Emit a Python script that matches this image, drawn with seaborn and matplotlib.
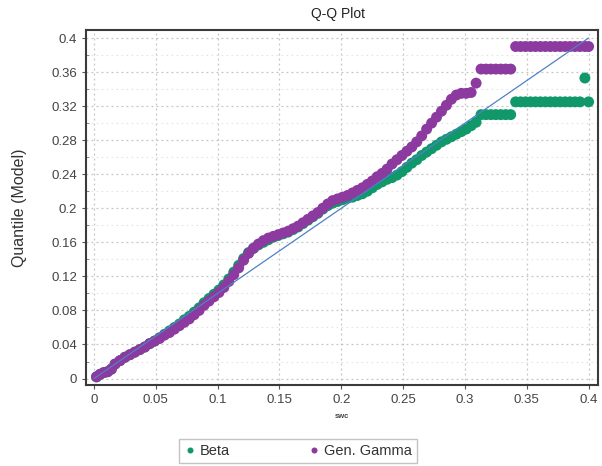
import matplotlib
matplotlib.use("Agg")
import matplotlib.pyplot as plt
import pandas as pd
import seaborn as sns
from matplotlib.ticker import FixedLocator, MultipleLocator

# empirical quantiles (swc)
swc = [0.002, 0.005, 0.008, 0.011, 0.014, 0.017, 0.021, 0.025, 0.029, 0.033, 0.037, 0.041, 0.045,
       0.049, 0.053, 0.057, 0.061, 0.065, 0.069, 0.073, 0.077, 0.081, 0.085, 0.089, 0.093, 0.097,
       0.101, 0.105, 0.109, 0.113, 0.117, 0.121, 0.125, 0.129, 0.133, 0.137, 0.141, 0.145, 0.149,
       0.153, 0.157, 0.161, 0.165, 0.169, 0.173, 0.177, 0.181, 0.185, 0.189, 0.193, 0.197,
       0.201, 0.205, 0.209, 0.213, 0.217, 0.221, 0.225, 0.229, 0.233, 0.237, 0.241, 0.245, 0.249,
       0.253, 0.257, 0.261, 0.265, 0.269, 0.273, 0.277, 0.281, 0.285, 0.289, 0.293, 0.297,
       0.301, 0.305, 0.309, 0.313, 0.317, 0.321, 0.325, 0.329, 0.333, 0.337,
       0.341, 0.345, 0.349, 0.353, 0.357, 0.361, 0.365, 0.369, 0.373, 0.377, 0.381, 0.385,
       0.389, 0.393, 0.397, 0.400]

# model quantiles - Beta
beta_q = [0.002, 0.005, 0.007, 0.008, 0.011, 0.017, 0.021, 0.025, 0.028, 0.031, 0.034, 0.037, 0.041,
          0.044, 0.048, 0.052, 0.056, 0.060, 0.064, 0.069, 0.073, 0.078, 0.083, 0.089, 0.094, 0.099,
          0.104, 0.110, 0.117, 0.125, 0.133, 0.141, 0.148, 0.153, 0.157, 0.160, 0.163, 0.166, 0.168,
          0.170, 0.172, 0.175, 0.178, 0.182, 0.186, 0.190, 0.194, 0.199, 0.203, 0.206, 0.208,
          0.210, 0.212, 0.213, 0.215, 0.217, 0.220, 0.224, 0.228, 0.231, 0.234, 0.236, 0.239, 0.243,
          0.248, 0.253, 0.257, 0.262, 0.266, 0.270, 0.274, 0.278, 0.281, 0.284, 0.287, 0.290,
          0.293, 0.297, 0.301, 0.310, 0.310, 0.310, 0.310, 0.310, 0.310, 0.310,
          0.325, 0.325, 0.325, 0.325, 0.325, 0.325, 0.325, 0.325, 0.325, 0.325, 0.325, 0.325,
          0.325, 0.325, 0.353, 0.325]

# model quantiles - Gen. Gamma
gamma_q = [0.002, 0.005, 0.007, 0.008, 0.011, 0.017, 0.021, 0.025, 0.028, 0.031, 0.034, 0.037, 0.041,
           0.044, 0.047, 0.051, 0.054, 0.058, 0.062, 0.066, 0.070, 0.075, 0.080, 0.086, 0.091, 0.096,
           0.101, 0.107, 0.114, 0.122, 0.130, 0.139, 0.147, 0.153, 0.158, 0.162, 0.165, 0.167, 0.169,
           0.171, 0.173, 0.176, 0.179, 0.183, 0.187, 0.191, 0.195, 0.200, 0.205, 0.209, 0.211,
           0.213, 0.215, 0.218, 0.221, 0.224, 0.228, 0.232, 0.237, 0.241, 0.246, 0.252, 0.257, 0.262,
           0.267, 0.272, 0.278, 0.285, 0.293, 0.300, 0.307, 0.314, 0.321, 0.328, 0.333, 0.335,
           0.335, 0.336, 0.347, 0.3635, 0.3635, 0.3635, 0.3635, 0.3635, 0.3635, 0.3635,
           0.390, 0.390, 0.390, 0.390, 0.390, 0.390, 0.390, 0.390, 0.390, 0.390, 0.390, 0.390,
           0.390, 0.390, 0.390, 0.390]

series_names = ["Beta", "Gen. Gamma"]
series_colors = ["#10986b", "#8c3a9f"]
ref_line = [0.0, 0.4]

x_ticks = [0, 0.05, 0.1, 0.15, 0.2, 0.25, 0.3, 0.35, 0.4]
x_tick_labels = ["0", "0.05", "0.1", "0.15", "0.2", "0.25", "0.3", "0.35", "0.4"]
y_ticks = [0, 0.04, 0.08, 0.12, 0.16, 0.2, 0.24, 0.28, 0.32, 0.36, 0.4]
y_tick_labels = ["0", "0.04", "0.08", "0.12", "0.16", "0.2", "0.24", "0.28", "0.32", "0.36", "0.4"]

df = pd.DataFrame({
    "swc": swc + swc,
    "q": beta_q + gamma_q,
    "dist": [series_names[0]] * len(swc) + [series_names[1]] * len(swc),
})

sns.set_theme(style="white")
plt.rcParams["font.family"] = ["Liberation Sans", "DejaVu Sans"]

W, H = 602, 466
fig = plt.figure(figsize=(W / 100, H / 100), dpi=100)
ax = fig.add_axes([86 / W, 1 - 385 / H, 512 / W, 355 / H])

sns.scatterplot(data=df, x="swc", y="q", hue="dist",
                palette=dict(zip(series_names, series_colors)),
                s=62, linewidth=0, ax=ax, zorder=3)
ax.plot(ref_line, ref_line, color="#4f80c6", lw=0.9, zorder=4)

ax.set_xlim(-0.0065, 0.4076)
ax.set_ylim(-0.0076, 0.4094)
ax.xaxis.set_major_locator(FixedLocator(x_ticks))
ax.set_xticklabels(x_tick_labels)
ax.yaxis.set_major_locator(FixedLocator(y_ticks))
ax.set_yticklabels(y_tick_labels)
ax.yaxis.set_minor_locator(MultipleLocator(0.02))

ax.grid(True, which="major", linestyle=(0, (1.5, 2.5)), color="#c4c4c4", linewidth=0.9, zorder=0)
ax.grid(True, which="minor", axis="y", linestyle=(0, (1.5, 3)), color="#e4e4e4", linewidth=0.8, zorder=0)
ax.set_axisbelow(True)

for sp in ax.spines.values():
    sp.set_color("#3a3a3a")
    sp.set_linewidth(1.5)

ax.tick_params(axis="both", which="major", labelsize=9.5, labelcolor="#444444",
               color="#555555", length=3, width=0.8, direction="out",
               bottom=True, left=True)
ax.tick_params(axis="y", which="minor", length=2, width=0.6, color="#777777",
               direction="in", left=True)

ax.set_xlabel("swc", fontsize=5.5, color="#444444", fontweight="bold")
ax.xaxis.set_label_coords(0.5, -0.079)
ax.set_ylabel("Quantile (Model)", fontsize=11.5, color="#333333")
ax.yaxis.set_label_coords(-0.115, 0.5)

fig.text(338 / W, 1 - 14 / H, "Q-Q Plot", ha="center", va="center",
         fontsize=10, color="#222222")

sns.move_legend(ax, "center", bbox_to_anchor=(0.414, -0.186), ncol=2, title=None,
                frameon=True, fontsize=10.5, markerscale=0.55, handletextpad=0.25,
                columnspacing=5.4, handlelength=0.8, borderpad=0.35,
                fancybox=False, edgecolor="#b5b5b5")
leg = ax.get_legend()
leg.get_frame().set_linewidth(1.0)
for t in leg.get_texts():
    t.set_color("#333333")

fig.savefig("out.png", dpi=100, facecolor="white")
